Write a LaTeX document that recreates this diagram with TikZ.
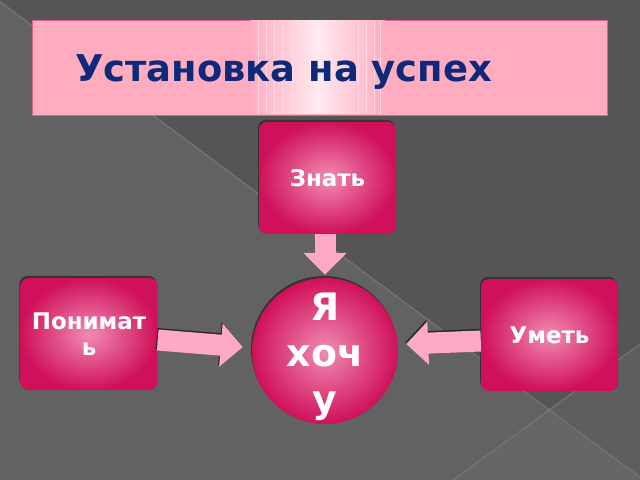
\documentclass[tikz,border=0pt]{standalone}
\usepackage{fontspec}
\setmainfont{DejaVu Sans}
\usetikzlibrary{arrows.meta,calc,shadows}
\definecolor{bgbase}{HTML}{626262}
\definecolor{bgdark}{HTML}{555555}
\definecolor{bgwedge}{HTML}{5E5E5E}
\definecolor{bgbottom}{HTML}{666666}
\definecolor{bgline}{HTML}{7A7A7A}
\definecolor{titlepink}{HTML}{FFABC0}
\definecolor{titleedge}{HTML}{E0608A}
\definecolor{navy}{HTML}{0D2A7A}
\definecolor{crimson}{HTML}{D0105A}
\definecolor{rosy}{HTML}{F08CB4}
\definecolor{arrowpink}{HTML}{FFAAC4}

\begin{document}
\begin{tikzpicture}[x=1bp,y=-1bp,
	pinkbox/.style={rounded corners=8bp, minimum width=137bp, minimum height=112bp,
		inner color=rosy, outer color=crimson,
		general shadow={fill=black!80, shadow xshift=-1bp, shadow yshift=2bp}},
	boxtext/.style={text=white, font=\bfseries\fontsize{23}{26}\selectfont, align=center},
	fatarrow/.style={arrowpink, line width=21bp, -{Triangle[length=22bp,width=42bp]}},
	arrowshade/.style={black!85, line width=21bp, -{Triangle[length=22bp,width=42bp]},
		transform canvas={xshift=-1bp, yshift=1.5bp}}]
	\useasboundingbox (0,0) rectangle (640,480);
	% background
	\fill[bgbase] (0,0) rectangle (640,480);
	\fill[bgdark] (0,0) -- (640,0) -- (640,477) -- cycle;
	\fill[bgwedge] (548,410) -- (640,344) -- (640,477) -- cycle;
	\fill[bgbottom] (548,410) -- (640,477) -- (640,480) -- (453,480) -- cycle;
	\draw[bgline, line width=0.8bp] (0,2) -- (640,477);
	\draw[bgline, line width=0.8bp] (640,344) -- (453,480);
	%
	\node[draw=titleedge, fill=titlepink, minimum width=575bp, minimum height=95bp] (title) at (319.5,67.5) {};
	\shade[left color=titlepink, right color=titlepink, middle color=white!75!titlepink] (250,21) rectangle (385,114);
	\foreach \x in {258,266,274,282,292,358,366,374,380}
		\draw[white!55!titlepink, line width=0.6bp] (\x,21) -- (\x,114);
	\node[anchor=base west, text=navy, font=\bfseries\fontsize{37}{40}\selectfont, inner sep=0] (titletext) at (75,82) {Установка на успех};
	%
	\node[pinkbox] (zn) at (327.5,178) {};
	\node[boxtext] at (zn.center) {Знать};
	\node[pinkbox] (pon) at (89,334) {};
	\node[boxtext] at (pon.center) {Понимат\\ь};
	\node[pinkbox] (um) at (549.5,335) {};
	\node[boxtext] at (um.center) {Уметь};
	\node[circle, minimum size=146bp, inner sep=0, inner color=rosy, outer color=crimson,
		general shadow={fill=black!80, shadow xshift=-1bp, shadow yshift=2bp}] (ya) at (325,351) {};
	\node[text=white, font=\bfseries\fontsize{38}{46}\selectfont, align=center] (yatext) at (325,357) {Я\\хоч\\у};
	%
	\draw[arrowshade] ($(pon.east)+(0,6)$) -- ($(ya.west)+(-9,-4)$);
	\draw[arrowshade] ($(um.west)+(0,6)$) -- ($(ya.east)+(8,-7)$);
	\draw[fatarrow] (ya.north |- zn.south) -- ($(ya.north)+(0,-3)$);
	\draw[fatarrow] ($(pon.east)+(0,6)$) -- ($(ya.west)+(-9,-4)$);
	\draw[fatarrow] ($(um.west)+(0,6)$) -- ($(ya.east)+(8,-7)$);
\end{tikzpicture}
\end{document}
